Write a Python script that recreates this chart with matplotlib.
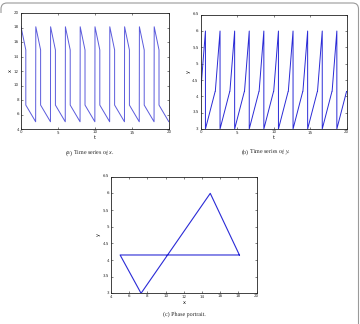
import matplotlib
matplotlib.use("Agg")
import matplotlib.pyplot as plt
from matplotlib.path import Path
from matplotlib.patches import PathPatch
import numpy as np

# Key values
n_cycles = 10
period = 2.0
t_jump = 0.65          # time of the downward jump inside each cycle
t_end = 1.98           # time of the upward x jump inside each cycle
x_top = 18.1
x_knee_hi = 14.9
x_knee_lo = 7.3
x_bottom = 5.0
y_mid = 4.15
y_top = 6.0
y_bottom = 3.0

# Build the piecewise-linear trajectories from the key values
t_list, x_list, y_list = [], [], []
for k in range(n_cycles):
    t0 = k * period
    t_list += [t0, t0 + t_jump, t0 + t_jump, t0 + t_end]
    x_list += [x_top, x_knee_hi, x_knee_lo, x_bottom]
    y_list += [y_mid, y_top, y_bottom, y_mid]
t_vals = np.array(t_list + [n_cycles * period])
x_vals = np.array(x_list + [x_bottom])
y_vals = np.array(y_list + [y_mid])

# phase portrait: one cycle
phase_x = [x_top, x_knee_hi, x_knee_lo, x_bottom, x_top]
phase_y = [y_mid, y_top, y_bottom, y_mid, y_mid]

plt.rcParams["mathtext.fontset"] = "custom"
plt.rcParams["mathtext.rm"] = "Liberation Serif"
plt.rcParams["mathtext.it"] = "Liberation Serif:italic"
plt.rcParams["text.hinting"] = "no_hinting"
plt.rcParams["text.hinting_factor"] = 1
fig = plt.figure(figsize=(3.6, 3.24), dpi=100)

tick_fs = 3.0
cap_fs = 4.6
lbl_fs = 3.4
tick_color = "#333333"


def style(ax):
    ax.tick_params(direction="in", length=1.5, width=0.4, labelsize=tick_fs,
                   top=True, right=True, pad=1.5, colors="#222222",
                   labelcolor=tick_color)
    for s in ax.spines.values():
        s.set_linewidth(0.6)
        s.set_color("#222222")


# (a)
axa = fig.add_axes([21/360, 1-129/324, 148/360, 116/324])
axa.plot(t_vals, x_vals, color="#5b5bdc", lw=0.7)
axa.set_xlim(0, 20)
axa.set_ylim(4, 20)
axa.set_xticks([0, 5, 10, 15, 20])
axa.set_yticks(np.arange(4, 21, 2))
axa.set_xlabel("t", fontsize=lbl_fs, labelpad=0.5)
axa.set_ylabel("x", fontsize=lbl_fs, labelpad=1, rotation=90)
style(axa)

# (b)
axb = fig.add_axes([200.7/360, 1-129/324, 146/360, 114.3/324])
axb.plot(t_vals, y_vals, color="#2a2ad6", lw=0.7)
axb.set_xlim(0, 20)
axb.set_ylim(3, 6.5)
axb.set_xticks([0, 5, 10, 15, 20])
axb.set_yticks(np.arange(3, 6.51, 0.5))
axb.set_yticklabels(["3", "3.5", "4", "4.5", "5", "5.5", "6", "6.5"])
axb.set_xlabel("t", fontsize=lbl_fs, labelpad=0.5)
axb.set_ylabel("y", fontsize=lbl_fs, labelpad=1)
style(axb)

# (c)
axc = fig.add_axes([111/360, 1-293.3/324, 145.7/360, 116.6/324])
axc.plot(phase_x, phase_y, color="#2a2ad6", lw=0.8)
axc.set_xlim(4, 20)
axc.set_ylim(3, 6.5)
axc.set_xticks(np.arange(4, 21, 2))
axc.set_yticks(np.arange(3, 6.51, 0.5))
axc.set_yticklabels(["3", "3.5", "4", "4.5", "5", "5.5", "6", "6.5"])
axc.set_xlabel("x", fontsize=lbl_fs, labelpad=0.5)
axc.set_ylabel("y", fontsize=lbl_fs, labelpad=1)
style(axc)

# captions
serif = ["Liberation Serif", "DejaVu Serif"]
fig.text(90/360, 1-153/324, "(a) Time series of $x$.", fontsize=cap_fs,
         ha="center", va="center", family=serif, color="#222222")
fig.text(266/360, 1-152/324, "(b) Time series of $y$.", fontsize=cap_fs,
         ha="center", va="center", family=serif, color="#222222")
fig.text(184/360, 1-314/324, "(c) Phase portrait.", fontsize=cap_fs,
         ha="center", va="center", family=serif, color="#222222")

# partial rounded frame (top-left corner, top edge, right edge)
W, H = 360.0, 324.0
r = 6.0
xl, xr, yt = 1.0, 358.5, 3.0
verts = [
    (xl, yt + 10), (xl, yt + r), (xl, yt), (xl + r, yt),
    (xr - r, yt), (xr, yt), (xr, yt + r), (xr, H + 5),
]
codes = [Path.MOVETO, Path.LINETO, Path.CURVE3, Path.CURVE3,
         Path.LINETO, Path.CURVE3, Path.CURVE3, Path.LINETO]
verts_fig = [(vx / W, 1 - vy / H) for vx, vy in verts]
frame = PathPatch(Path(verts_fig, codes), transform=fig.transFigure,
                  fill=False, edgecolor="#9a9a9a", lw=0.8)
fig.patches.append(frame)

fig.savefig("out.png", dpi=100)
